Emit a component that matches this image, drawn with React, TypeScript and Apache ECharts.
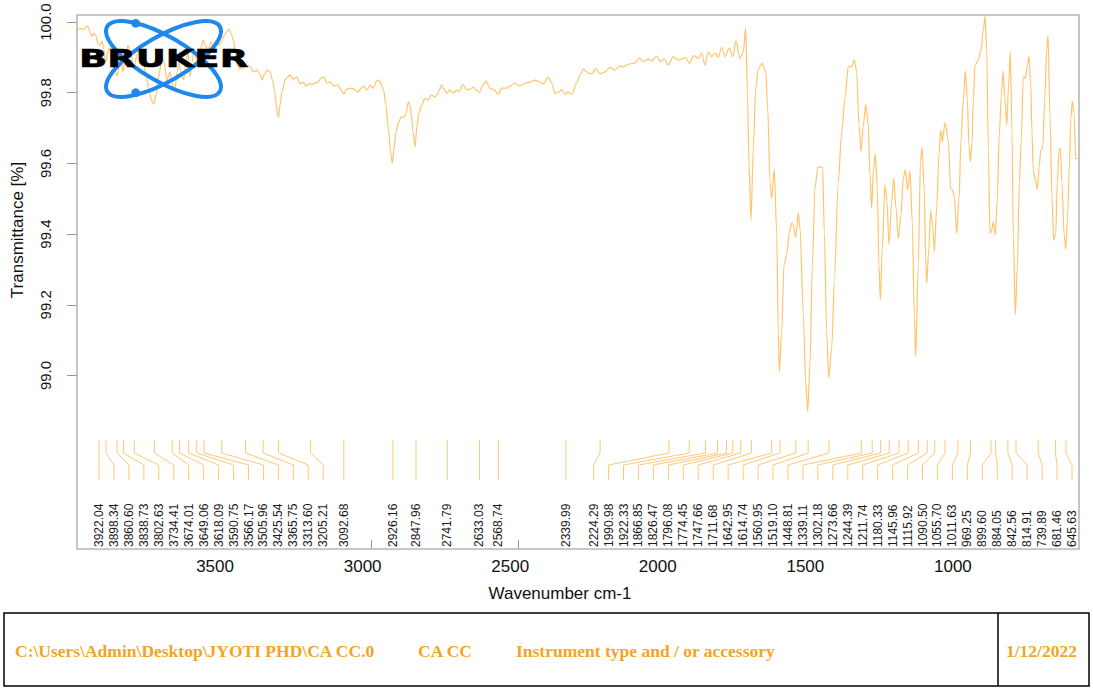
import React, { useEffect, useRef } from "react";
import * as echarts from "echarts";

// ---- axis extents & ticks ----
const X_MIN = 601.6;
const X_MAX = 3996.6;
const Y_MIN = 98.509;
const Y_MAX = 100.02;
const xTickValues = [3500, 3000, 2500, 2000, 1500, 1000];
const yTickValues = [99.0, 99.2, 99.4, 99.6, 99.8, 100.0];

// ---- picked peak positions (cm-1) ----
const peakWavenumbers = [
  3922.04, 3898.34, 3860.6, 3838.73, 3802.63, 3734.41, 3674.01, 3649.06, 3618.09, 3590.75,
  3566.17, 3505.96, 3425.54, 3365.75, 3313.6, 3205.21, 3092.68, 2926.16, 2847.96, 2741.79,
  2633.03, 2568.74, 2339.99, 2224.29, 1990.98, 1922.33, 1866.85, 1826.47, 1796.08, 1774.45,
  1747.66, 1711.68, 1642.95, 1614.74, 1560.95, 1519.1, 1448.81, 1339.11, 1302.18, 1273.66,
  1244.39, 1211.74, 1180.33, 1145.96, 1115.92, 1090.5, 1055.7, 1011.63, 969.25, 899.6,
  884.05, 842.56, 814.91, 739.89, 681.46, 645.63,
];

// ---- spectrum: [wavenumber cm-1, transmittance %] ----
const spectrumHigh: [number, number][] = [
  [3996.6, 99.98], [3986.4, 99.982], [3972.9, 99.979], [3961.7, 99.989], [3952.5, 99.974],
  [3946.8, 99.96], [3939.0, 99.969], [3932.2, 99.96], [3925.4, 99.938], [3918.7, 99.935],
  [3911.9, 99.946], [3905.1, 99.921], [3900.0, 99.887], [3888.2, 99.926], [3878.0, 99.907],
  [3867.8, 99.864], [3861.1, 99.847], [3854.3, 99.87], [3847.5, 99.892], [3840.7, 99.859],
  [3833.9, 99.887], [3823.8, 99.935], [3813.6, 99.907], [3803.5, 99.87], [3793.3, 99.907],
  [3783.1, 99.926], [3773.0, 99.898], [3762.8, 99.85], [3752.6, 99.808], [3744.2, 99.779],
  [3736.7, 99.768], [3728.9, 99.793], [3722.1, 99.836], [3715.4, 99.864], [3708.6, 99.898],
  [3701.8, 99.887], [3691.6, 99.836], [3681.5, 99.859], [3674.7, 99.825], [3664.5, 99.808],
  [3657.8, 99.859], [3651.0, 99.887], [3644.2, 99.859], [3635.1, 99.836], [3627.3, 99.892],
  [3620.5, 99.915], [3613.7, 99.847], [3606.9, 99.887], [3600.2, 99.921], [3593.4, 99.898],
  [3584.2, 99.878], [3576.4, 99.926], [3569.7, 99.949], [3562.9, 99.935], [3552.7, 99.921],
  [3542.6, 99.943], [3532.4, 99.926], [3525.6, 99.949], [3515.5, 99.935], [3508.7, 99.943],
  [3498.5, 99.96], [3490.0, 99.972], [3482.6, 99.98], [3474.8, 99.969], [3466.3, 99.949],
  [3459.6, 99.915], [3452.8, 99.876], [3444.3, 99.867],
];

const spectrumMid: [number, number][] = [
  [3434.1, 99.87], [3420.6, 99.878], [3410.4, 99.873], [3397.9, 99.859], [3386.7, 99.864],
  [3376.5, 99.853], [3369.8, 99.836], [3361.3, 99.853], [3352.8, 99.864], [3342.7, 99.859],
  [3334.2, 99.836], [3327.4, 99.808], [3322.3, 99.774], [3317.3, 99.74], [3313.9, 99.731],
  [3308.8, 99.765], [3302.0, 99.802], [3291.8, 99.836], [3283.4, 99.844], [3274.9, 99.85],
  [3264.7, 99.839], [3251.2, 99.844], [3241.0, 99.825], [3230.8, 99.83], [3220.7, 99.819],
  [3210.5, 99.825], [3197.0, 99.825], [3180.0, 99.83], [3169.9, 99.842], [3159.7, 99.844],
  [3149.5, 99.827], [3139.4, 99.83], [3125.8, 99.819], [3112.3, 99.822], [3102.1, 99.808],
  [3092.9, 99.796], [3085.2, 99.808], [3071.6, 99.813], [3058.1, 99.81], [3044.5, 99.802],
  [3034.3, 99.813], [3025.2, 99.819], [3014.0, 99.808], [3003.8, 99.822], [2993.7, 99.813],
  [2981.8, 99.833], [2974.4, 99.836], [2966.6, 99.825], [2958.1, 99.808], [2949.6, 99.765],
  [2941.2, 99.695], [2934.4, 99.632], [2928.3, 99.601], [2922.5, 99.643], [2915.7, 99.689],
  [2906.6, 99.717], [2898.8, 99.731], [2888.6, 99.731], [2881.9, 99.74], [2874.1, 99.774],
  [2868.3, 99.765], [2863.2, 99.737], [2858.1, 99.689], [2851.4, 99.647], [2844.6, 99.706],
  [2837.8, 99.743], [2829.3, 99.765], [2817.5, 99.784], [2807.3, 99.779], [2795.5, 99.793],
  [2783.6, 99.788], [2773.4, 99.799], [2760.9, 99.822], [2753.1, 99.81], [2744.0, 99.799],
  [2732.8, 99.808], [2722.6, 99.799], [2710.1, 99.808], [2701.3, 99.802], [2689.8, 99.824],
  [2676.2, 99.808], [2665.0, 99.81], [2653.8, 99.816], [2644.7, 99.808], [2633.5, 99.801],
  [2621.0, 99.822], [2610.8, 99.833], [2597.3, 99.813], [2583.7, 99.808], [2569.1, 99.796],
  [2557.6, 99.813], [2540.7, 99.813], [2529.5, 99.819], [2512.6, 99.827], [2495.6, 99.819],
  [2478.7, 99.827], [2461.7, 99.83], [2444.8, 99.836], [2427.8, 99.83], [2416.7, 99.825],
  [2399.7, 99.844], [2388.2, 99.827], [2377.0, 99.798], [2365.8, 99.802], [2354.3, 99.808],
  [2343.1, 99.796], [2332.0, 99.802], [2320.4, 99.795], [2303.5, 99.827], [2292.3, 99.85],
  [2281.1, 99.867], [2264.2, 99.856], [2252.7, 99.853], [2239.1, 99.869], [2224.6, 99.853],
  [2207.6, 99.859], [2190.7, 99.872], [2173.7, 99.864], [2159.2, 99.876], [2145.6, 99.873],
  [2128.7, 99.881], [2111.7, 99.883], [2100.2, 99.888], [2091.4, 99.899], [2077.9, 99.888],
  [2060.9, 99.895], [2049.4, 99.89], [2032.5, 99.904], [2021.3, 99.888], [2006.7, 99.895],
  [1993.1, 99.878], [1976.2, 99.902], [1959.3, 99.892], [1942.3, 99.897], [1933.2, 99.899],
  [1922.0, 99.883], [1906.1, 99.905], [1891.5, 99.897], [1880.0, 99.913], [1868.8, 99.878],
  [1857.6, 99.916], [1846.1, 99.902], [1834.9, 99.913], [1823.7, 99.9], [1812.2, 99.928],
  [1801.0, 99.902], [1786.5, 99.926], [1774.9, 99.902], [1763.8, 99.946], [1750.2, 99.897],
  [1739.0, 99.916], [1730.9, 99.982],
];

const spectrumFingerprint: [number, number][] = [
  [1724.8, 99.794], [1719.7, 99.595], [1712.9, 99.44], [1705.1, 99.643], [1697.0, 99.813],
  [1688.2, 99.869], [1674.7, 99.883], [1663.1, 99.859], [1656.4, 99.757], [1648.6, 99.547],
  [1642.8, 99.501], [1634.0, 99.584], [1625.9, 99.406], [1620.4, 99.123], [1617.1, 99.011],
  [1608.9, 99.123], [1601.1, 99.313], [1592.0, 99.341], [1583.2, 99.406], [1575.0, 99.431],
  [1569.6, 99.426], [1561.5, 99.39], [1552.7, 99.459], [1546.9, 99.417], [1535.7, 99.171],
  [1527.6, 98.982], [1520.8, 98.898], [1513.0, 99.03], [1505.2, 99.313], [1496.1, 99.53],
  [1486.9, 99.588], [1475.8, 99.591], [1470.0, 99.586], [1464.6, 99.406], [1456.5, 99.123],
  [1449.7, 98.994], [1439.5, 99.078], [1430.7, 99.264], [1417.2, 99.547], [1405.6, 99.689],
  [1394.4, 99.785], [1383.3, 99.874], [1371.7, 99.874], [1362.9, 99.893], [1354.8, 99.859],
  [1347.0, 99.709], [1340.2, 99.635], [1332.4, 99.709], [1324.3, 99.767], [1315.5, 99.709],
  [1309.7, 99.567], [1304.0, 99.473], [1298.6, 99.576], [1291.8, 99.628], [1285.0, 99.53],
  [1279.3, 99.313], [1274.9, 99.214], [1268.1, 99.361], [1258.9, 99.539], [1252.1, 99.491],
  [1245.4, 99.371], [1236.2, 99.491], [1229.4, 99.558], [1221.6, 99.474], [1213.9, 99.388],
  [1204.7, 99.454], [1196.9, 99.559], [1190.1, 99.581], [1182.0, 99.525], [1174.2, 99.579],
  [1166.4, 99.434], [1159.6, 99.171], [1154.9, 99.053], [1146.1, 99.313], [1138.6, 99.61],
  [1133.6, 99.644], [1125.7, 99.525], [1121.0, 99.327], [1117.6, 99.261], [1110.8, 99.355],
  [1104.0, 99.466], [1097.3, 99.421], [1091.8, 99.35], [1083.7, 99.477], [1075.9, 99.628],
  [1070.2, 99.694], [1064.7, 99.661], [1055.6, 99.715], [1044.4, 99.666], [1036.3, 99.529],
  [1030.9, 99.525], [1024.1, 99.506], [1016.0, 99.402], [1008.2, 99.499], [1001.4, 99.666],
  [993.6, 99.779], [986.8, 99.862], [980.0, 99.779], [974.3, 99.647], [969.9, 99.605],
  [964.1, 99.657], [959.7, 99.779], [953.9, 99.878], [942.8, 99.893], [933.6, 99.921],
  [925.8, 99.977], [920.1, 100.017], [914.3, 99.921], [908.9, 99.638], [903.1, 99.402],
  [897.4, 99.412], [891.9, 99.435], [885.2, 99.397], [878.4, 99.499], [871.6, 99.685],
  [864.8, 99.789], [859.1, 99.862], [852.3, 99.779], [846.5, 99.709], [839.8, 99.826],
  [834.3, 99.916], [828.6, 99.685], [824.2, 99.402], [817.4, 99.171], [810.6, 99.307],
  [803.8, 99.544], [797.1, 99.666], [790.3, 99.845], [783.5, 99.841], [776.7, 99.874],
  [771.0, 99.904], [765.2, 99.827], [760.8, 99.685], [756.4, 99.581], [749.6, 99.553],
  [742.9, 99.527], [736.1, 99.591], [731.3, 99.638], [724.6, 99.643], [717.8, 99.779],
  [711.0, 99.921], [706.6, 99.961], [699.8, 99.732], [693.0, 99.499], [687.3, 99.383],
  [680.5, 99.402], [675.1, 99.544], [669.3, 99.638], [664.9, 99.643], [659.2, 99.544],
  [652.4, 99.402], [646.6, 99.357], [639.9, 99.451], [634.4, 99.591], [628.7, 99.732],
  [624.3, 99.776], [618.5, 99.742], [612.8, 99.614], [601.6, 99.614],
];

// ---- footer texts ----
const footerPath = "C:\\Users\\Admin\\Desktop\\JYOTI PHD\\CA CC.0";
const footerSample = "CA CC";
const footerInstrument = "Instrument type and / or accessory";
const footerDate = "1/12/2022";

const LINE_COLOR = "#ffc46b";
const SANS = "Liberation Sans, Arial, Helvetica, sans-serif";

// Spread peak labels so they don't overlap (clusters centred on their peaks)
function layoutLabels(xs: number[], gap: number, lo: number, hi: number): number[] {
  type C = { s: number; e: number; first: number };
  const place = (k: C) => {
    const n = k.e - k.s + 1;
    let mean = 0;
    for (let i = k.s; i <= k.e; i++) mean += xs[i];
    mean /= n;
    let first = mean - ((n - 1) * gap) / 2;
    first = Math.max(lo, Math.min(first, hi - (n - 1) * gap));
    k.first = first;
  };
  const cl: C[] = xs.map((x, i) => {
    const k = { s: i, e: i, first: x };
    place(k);
    return k;
  });
  let merged = true;
  while (merged) {
    merged = false;
    for (let i = 0; i < cl.length - 1; i++) {
      const a = cl[i];
      const b = cl[i + 1];
      const aLast = a.first + (a.e - a.s) * gap;
      if (aLast + gap > b.first + 1e-6) {
        const m = { s: a.s, e: b.e, first: 0 };
        place(m);
        cl.splice(i, 2, m);
        merged = true;
        break;
      }
    }
  }
  const out: number[] = [];
  cl.forEach((k) => {
    for (let i = k.s; i <= k.e; i++) out.push(k.first + (i - k.s) * gap);
  });
  return out;
}

export default function App() {
  const ref = useRef<HTMLDivElement>(null);

  useEffect(() => {
    if (!ref.current) return;
    const chart = echarts.init(ref.current, null, { renderer: "svg" });
    let labelX: number[] = [];

    const spectrum = [...spectrumHigh, ...spectrumMid, ...spectrumFingerprint];

    const option: any = {
      animation: false,
      backgroundColor: "#ffffff",
      grid: {
        left: 77,
        top: 15,
        width: 1002,
        height: 534,
        show: true,
        borderColor: "#b3b3b3",
        borderWidth: 1.5,
        backgroundColor: "transparent",
        containLabel: false,
        outerBoundsMode: "none",
      },
      xAxis: {
        type: "value",
        inverse: true,
        min: X_MIN,
        max: X_MAX,
        axisLine: { show: false },
        splitLine: { show: false },
        axisTick: {
          show: true,
          inside: true,
          length: 9,
          customValues: xTickValues,
          lineStyle: { color: "#999999", width: 1 },
        },
        axisLabel: {
          customValues: xTickValues,
          fontSize: 17,
          fontFamily: SANS,
          color: "#111111",
          margin: 9,
          padding: [0, 17, 0, 0],
          formatter: (v: number) => String(v),
        },
      },
      yAxis: {
        type: "value",
        min: Y_MIN,
        max: Y_MAX,
        axisLine: { show: false },
        splitLine: { show: false },
        axisTick: {
          show: true,
          inside: false,
          length: 10,
          customValues: yTickValues,
          lineStyle: { color: "#999999", width: 1 },
        },
        axisLabel: {
          customValues: yTickValues,
          rotate: 90,
          fontSize: 15,
          fontFamily: SANS,
          color: "#111111",
          margin: 24,
          formatter: (v: number) => v.toFixed(1),
        },
      },
      series: [
        {
          type: "line",
          data: spectrum,
          showSymbol: false,
          symbol: "none",
          smooth: 0.3,
          smoothMonotone: "x",
          silent: true,
          z: 2,
          lineStyle: { color: LINE_COLOR, width: 1.2 },
        },
        {
          type: "custom",
          silent: true,
          z: 5,
          clip: false,
          encode: { x: 0, y: 1 },
          data: peakWavenumbers.map((v) => [v, Y_MIN]),
          renderItem: (params: any, api: any) => {
            const cs = params.coordSys;
            const i = params.dataIndex;
            if (i === 0 || labelX.length !== peakWavenumbers.length) {
              const xs = peakWavenumbers.map((v) => api.coord([v, Y_MIN])[0]);
              labelX = layoutLabels(xs, 14.95, cs.x + 22, cs.x + cs.width - 7);
            }
            const px = api.coord([api.value(0), Y_MIN])[0];
            const lx = labelX[i];
            const bottom = cs.y + cs.height;
            return {
              type: "group",
              children: [
                {
                  type: "polyline",
                  shape: {
                    points: [
                      [px, bottom - 109],
                      [px, bottom - 96],
                      [lx, bottom - 84],
                      [lx, bottom - 69],
                    ],
                  },
                  style: { stroke: "#ffc878", fill: "none", lineWidth: 1 },
                },
                {
                  type: "text",
                  x: lx,
                  y: bottom - 0.8,
                  rotation: Math.PI / 2,
                  style: {
                    text: peakWavenumbers[i].toFixed(2),
                    fontSize: 12,
                    fontFamily: SANS,
                    fill: "#1a1a1a",
                    backgroundColor: "#ffffff",
                    padding: [0, 0, 0, 1.2],
                    textAlign: "left",
                    textVerticalAlign: "middle",
                    align: "left",
                    verticalAlign: "middle",
                  },
                },
              ],
            };
          },
        },
      ],
      graphic: {
        elements: [
          // axis titles
          {
            type: "text",
            x: 17,
            y: 230,
            rotation: Math.PI / 2,
            style: {
              text: "Transmittance [%]",
              fontSize: 17,
              fontFamily: SANS,
              fill: "#111111",
              textAlign: "center",
              textVerticalAlign: "middle",
              align: "center",
              verticalAlign: "middle",
            },
          },
          {
            type: "text",
            x: 560,
            y: 593,
            style: {
              text: "Wavenumber cm-1",
              fontSize: 17,
              fontFamily: SANS,
              fill: "#111111",
              textAlign: "center",
              textVerticalAlign: "middle",
              align: "center",
              verticalAlign: "middle",
            },
          },
          // Bruker logo
          {
            type: "ellipse",
            x: 163.5,
            y: 59,
            rotation: -Math.PI / 6,
            z: 100,
            shape: { cx: 0, cy: 0, rx: 65, ry: 22.6 },
            style: { fill: "none", stroke: "#1d88ee", lineWidth: 4 },
          },
          {
            type: "ellipse",
            x: 163.5,
            y: 59,
            rotation: Math.PI / 6,
            z: 100,
            shape: { cx: 0, cy: 0, rx: 65, ry: 22.6 },
            style: { fill: "none", stroke: "#1d88ee", lineWidth: 4 },
          },
          {
            type: "circle",
            z: 101,
            shape: { cx: 135.7, cy: 23.3, r: 4.4 },
            style: { fill: "#1d88ee" },
          },
          {
            type: "circle",
            z: 101,
            shape: { cx: 135.7, cy: 92.7, r: 4.4 },
            style: { fill: "#1d88ee" },
          },
          {
            type: "text",
            x: 79,
            y: 58.5,
            scaleX: 1.48,
            z: 102,
            style: {
              text: "BRUKER",
              fontSize: 25,
              fontWeight: "bold",
              fontFamily: "DejaVu Sans, Verdana, sans-serif",
              fill: "#000000",
              stroke: "#000000",
              lineWidth: 0.6,
              textAlign: "left",
              textVerticalAlign: "middle",
              align: "left",
              verticalAlign: "middle",
            },
          },
          // footer
          {
            type: "rect",
            shape: { x: 4, y: 613, width: 1085, height: 73 },
            style: { fill: "none", stroke: "#000000", lineWidth: 1.5 },
          },
          {
            type: "line",
            shape: { x1: 998, y1: 613, x2: 998, y2: 686 },
            style: { stroke: "#000000", lineWidth: 1.5 },
          },
          ...[
            { t: footerPath, x: 15 },
            { t: footerSample, x: 418 },
            { t: footerInstrument, x: 516 },
            { t: footerDate, x: 1006 },
          ].map((f) => ({
            type: "text",
            x: f.x,
            y: 651,
            style: {
              text: f.t,
              fontSize: 17.5,
              fontWeight: "bold",
              fontFamily: "Liberation Serif, Times New Roman, serif",
              fill: "#f4a425",
              textAlign: "left",
              textVerticalAlign: "middle",
              align: "left",
              verticalAlign: "middle",
            },
          })),
        ],
      },
    };

    chart.setOption(option);
    return () => chart.dispose();
  }, []);

  return (
    <div
      ref={ref}
      style={{ position: "fixed", left: 0, top: 0, width: 1093, height: 692, background: "#fff" }}
    />
  );
}
